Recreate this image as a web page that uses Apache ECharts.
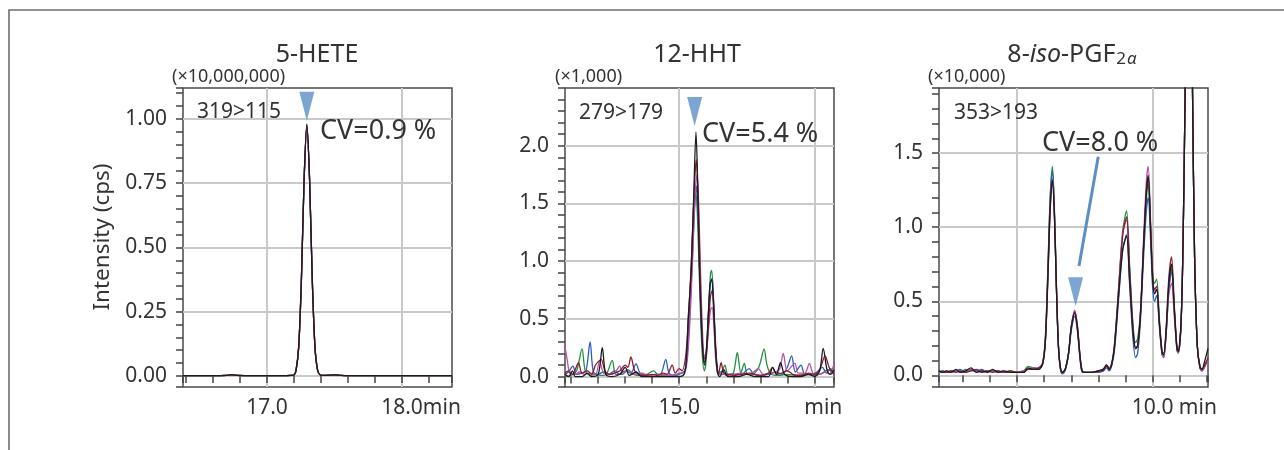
<!DOCTYPE html>
<html><head><meta charset="utf-8">
<script src="https://cdn.jsdelivr.net/npm/echarts@6/dist/echarts.min.js"></script>
<style>html,body{margin:0;padding:0;background:#fff}#c{width:1284px;height:450px}</style>
</head><body><div id="c"></div>
<script>
// ---------- Panel 1: 5-HETE (x10,000,000) ----------
const heteX = [16.378,16.5,16.6,16.7,16.74,16.78,16.9,17.0,17.1,17.18,17.2,17.215,17.235,17.255,17.275,17.295,17.315,17.335,17.355,17.375,17.395,17.42,17.5,17.55,17.6,17.8,18.0,18.2,18.37];
const heteGreen   = [0.001,0.001,0.001,0.002,0.004,0.002,0.001,0.001,0.001,0.002,0.004,0.021,0.112,0.375,0.765,0.978,0.772,0.382,0.116,0.022,0.004,0.002,0.003,0.002,0.001,0.001,0.001,0.001,0.001];
const heteBlue    = [0.001,0.001,0.001,0.002,0.005,0.002,0.001,0.001,0.001,0.002,0.004,0.020,0.110,0.370,0.760,0.970,0.768,0.380,0.114,0.021,0.004,0.002,0.004,0.002,0.001,0.001,0.001,0.001,0.001];
const heteMagenta = [0.001,0.001,0.001,0.002,0.005,0.002,0.001,0.001,0.001,0.002,0.005,0.024,0.120,0.385,0.768,0.975,0.765,0.375,0.112,0.021,0.004,0.002,0.004,0.002,0.001,0.001,0.001,0.001,0.001];
const heteRed     = [0.001,0.001,0.001,0.002,0.004,0.002,0.001,0.001,0.001,0.002,0.004,0.021,0.113,0.377,0.764,0.972,0.770,0.379,0.115,0.022,0.004,0.002,0.003,0.002,0.001,0.001,0.001,0.001,0.001];
const heteBlack   = [0.001,0.001,0.001,0.002,0.005,0.002,0.001,0.001,0.001,0.002,0.004,0.022,0.115,0.380,0.770,0.980,0.770,0.380,0.115,0.022,0.004,0.002,0.004,0.002,0.001,0.001,0.001,0.001,0.001];
const hetePeak = [17.295, 0.993];

// ---------- Panel 2: 12-HHT (x1,000) ----------
const hhtGreen = [[14.577,0.0],[14.6,0.01],[14.62,0.05],[14.64,0.24],[14.652,0.05],[14.67,0.01],[14.69,0.02],[14.71,0.01],[14.73,0.02],[14.752,0.14],[14.765,0.02],[14.79,0.02],[14.81,0.06],[14.83,0.02],[14.86,0.01],[14.88,0.02],[14.905,0.05],[14.92,0.02],[14.95,0.01],[14.98,0.01],[15.0,0.0],[15.02,0.03],[15.03,0.25],[15.04,0.7],[15.05,1.3],[15.058,1.6],[15.064,1.55],[15.07,1.2],[15.078,0.6],[15.085,0.2],[15.093,0.05],[15.1,0.15],[15.108,0.55],[15.116,0.9],[15.12,0.92],[15.126,0.7],[15.134,0.25],[15.142,0.03],[15.152,0.02],[15.169,0.1],[15.18,0.02],[15.2,0.03],[15.215,0.21],[15.228,0.03],[15.241,0.115],[15.252,0.02],[15.27,0.02],[15.29,0.06],[15.3,0.12],[15.314,0.24],[15.325,0.1],[15.34,0.02],[15.37,0.01],[15.4,0.02],[15.43,0.01],[15.47,0.02],[15.5,0.01],[15.53,0.03],[15.55,0.06],[15.573,0.02]];
const hhtBlue = [[14.577,0.02],[14.59,0.04],[14.606,0.09],[14.62,0.02],[14.64,0.03],[14.655,0.05],[14.67,0.30],[14.682,0.04],[14.70,0.02],[14.72,0.04],[14.74,0.02],[14.76,0.05],[14.78,0.02],[14.8,0.05],[14.82,0.03],[14.84,0.11],[14.855,0.03],[14.88,0.01],[14.91,0.02],[14.93,0.02],[14.95,0.15],[14.962,0.03],[14.98,0.01],[15.0,0.02],[15.02,0.05],[15.03,0.2],[15.04,0.6],[15.05,1.1],[15.058,1.5],[15.064,1.65],[15.07,1.4],[15.077,0.8],[15.084,0.35],[15.092,0.15],[15.1,0.22],[15.108,0.55],[15.116,0.82],[15.122,0.85],[15.128,0.6],[15.136,0.2],[15.145,0.03],[15.16,0.05],[15.175,0.01],[15.2,0.02],[15.23,0.02],[15.259,0.07],[15.275,0.02],[15.3,0.01],[15.33,0.02],[15.36,0.04],[15.38,0.02],[15.4,0.08],[15.416,0.18],[15.43,0.04],[15.451,0.1],[15.465,0.02],[15.49,0.02],[15.51,0.04],[15.53,0.08],[15.545,0.03],[15.56,0.07],[15.573,0.03]];
const hhtMagenta = [[14.577,0.26],[14.585,0.15],[14.595,0.03],[14.615,0.02],[14.63,0.04],[14.65,0.02],[14.67,0.03],[14.69,0.02],[14.705,0.13],[14.72,0.03],[14.74,0.02],[14.76,0.03],[14.78,0.09],[14.79,0.03],[14.81,0.05],[14.83,0.02],[14.86,0.03],[14.89,0.01],[14.93,0.02],[14.96,0.01],[14.99,0.02],[15.0,0.03],[15.02,0.04],[15.03,0.15],[15.04,0.5],[15.05,1.05],[15.058,1.55],[15.066,1.75],[15.072,1.5],[15.079,0.9],[15.086,0.4],[15.093,0.18],[15.1,0.2],[15.108,0.4],[15.116,0.58],[15.122,0.6],[15.128,0.45],[15.136,0.12],[15.145,0.03],[15.16,0.02],[15.2,0.02],[15.23,0.03],[15.26,0.02],[15.293,0.07],[15.31,0.02],[15.34,0.03],[15.37,0.06],[15.385,0.2],[15.4,0.05],[15.428,0.115],[15.44,0.03],[15.465,0.03],[15.482,0.115],[15.495,0.03],[15.52,0.02],[15.54,0.04],[15.555,0.02],[15.573,0.11]];
const hhtRed = [[14.577,0.03],[14.59,0.05],[14.605,0.02],[14.627,0.12],[14.64,0.03],[14.66,0.05],[14.675,0.02],[14.69,0.1],[14.70,0.13],[14.711,0.15],[14.725,0.05],[14.74,0.02],[14.76,0.03],[14.78,0.05],[14.8,0.1],[14.81,0.08],[14.821,0.17],[14.835,0.05],[14.85,0.02],[14.87,0.01],[14.90,0.02],[14.92,0.01],[14.94,0.03],[14.955,0.02],[14.974,0.10],[14.985,0.03],[15.0,0.07],[15.01,0.05],[15.025,0.2],[15.035,0.55],[15.045,1.0],[15.055,1.6],[15.063,1.88],[15.07,1.55],[15.077,0.9],[15.084,0.4],[15.092,0.12],[15.1,0.18],[15.108,0.45],[15.116,0.7],[15.123,0.75],[15.13,0.5],[15.138,0.15],[15.146,0.03],[15.155,0.12],[15.165,0.03],[15.18,0.02],[15.2,0.01],[15.23,0.02],[15.26,0.03],[15.3,0.01],[15.33,0.03],[15.345,0.08],[15.36,0.02],[15.38,0.03],[15.4,0.05],[15.42,0.02],[15.45,0.01],[15.48,0.03],[15.5,0.02],[15.52,0.06],[15.54,0.18],[15.555,0.08],[15.573,0.02]];
const hhtBlack = [[14.577,0.02],[14.59,0.0],[14.605,0.05],[14.615,0.0],[14.64,0.0],[14.66,0.03],[14.675,0.0],[14.70,0.02],[14.715,0.25],[14.728,0.02],[14.75,0.0],[14.78,0.02],[14.80,0.08],[14.815,0.01],[14.84,0.04],[14.86,0.0],[14.90,0.0],[14.95,0.0],[14.98,0.0],[15.0,0.0],[15.015,0.01],[15.025,0.1],[15.033,0.5],[15.04,0.75],[15.046,1.0],[15.054,1.6],[15.062,2.12],[15.068,1.7],[15.074,1.0],[15.081,0.5],[15.088,0.2],[15.094,0.1],[15.101,0.25],[15.108,0.55],[15.114,0.8],[15.12,0.84],[15.127,0.6],[15.134,0.25],[15.142,0.03],[15.15,0.0],[15.165,0.06],[15.18,0.0],[15.22,0.0],[15.25,0.02],[15.28,0.0],[15.33,0.0],[15.346,0.08],[15.36,0.02],[15.375,0.12],[15.39,0.02],[15.42,0.0],[15.45,0.0],[15.48,0.02],[15.5,0.0],[15.52,0.05],[15.533,0.245],[15.548,0.05],[15.56,0.02],[15.573,0.06]];
const hhtPeak = [15.057, 2.17];

// ---------- Panel 3: 8-iso-PGF2a (x10,000) ----------
const isoX = [8.424,8.45,8.48,8.51,8.55,8.58,8.62,8.66,8.70,8.74,8.78,8.82,8.86,8.90,8.95,9.0,9.05,9.08,9.12,9.16,9.19,9.21,9.23,9.245,9.261,9.275,9.29,9.305,9.32,9.335,9.355,9.38,9.40,9.426,9.445,9.465,9.48,9.5,9.55,9.6,9.635,9.66,9.68,9.70,9.72,9.75,9.78,9.808,9.83,9.855,9.875,9.89,9.91,9.935,9.955,9.968,9.985,10.0,10.015,10.03,10.05,10.07,10.082,10.1,10.12,10.14,10.16,10.18,10.19,10.21,10.225,10.24,10.255,10.267,10.28,10.295,10.31,10.33,10.35,10.365,10.38,10.4,10.409];
const isoGreen = [0.02,0.03,0.02,0.03,0.03,0.02,0.04,0.03,0.03,0.02, 0.03,0.03,0.02,0.02,0.03,0.02,0.03,0.06,0.05,0.04, 0.09,0.28,0.80,1.22,1.41,1.15,0.62,0.20,0.05,0.02, 0.04,0.15,0.32,0.43,0.33,0.12,0.03,0.02,0.02,0.03, 0.04,0.06,0.05,0.09,0.22,0.60,0.98,1.11,0.75,0.35, 0.22,0.25,0.42,0.88,1.20,1.30,0.98,0.70,0.62,0.65, 0.38,0.16,0.13,0.28,0.58,0.72,0.45,0.18,0.16,0.35, 0.90,1.90,3.00,3.40,3.00,1.90,0.80,0.20,0.05,0.03, 0.05,0.09,0.11];
const isoBlue = [0.02,0.03,0.02,0.02,0.03,0.04,0.02,0.04,0.03,0.04, 0.02,0.03,0.03,0.02,0.02,0.02,0.03,0.04,0.05,0.04, 0.08,0.26,0.78,1.20,1.38,1.12,0.60,0.20,0.04,0.01, 0.03,0.14,0.30,0.40,0.30,0.11,0.02,0.02,0.02,0.02, 0.03,0.05,0.03,0.07,0.18,0.52,0.85,0.95,0.62,0.25, 0.12,0.15,0.36,0.82,1.12,1.20,0.92,0.60,0.50,0.54, 0.33,0.14,0.12,0.28,0.58,0.70,0.44,0.17,0.15,0.34, 0.90,1.90,3.00,3.40,3.00,1.90,0.80,0.20,0.05,0.03, 0.05,0.09,0.10];
const isoMagenta = [0.02,0.02,0.03,0.02,0.03,0.03,0.02,0.04,0.02,0.03, 0.03,0.03,0.02,0.03,0.02,0.02,0.03,0.04,0.05,0.05, 0.09,0.25,0.74,1.15,1.33,1.12,0.62,0.21,0.05,0.02, 0.04,0.15,0.33,0.44,0.34,0.13,0.03,0.02,0.02,0.03, 0.04,0.07,0.05,0.08,0.22,0.58,0.96,1.05,0.72,0.33, 0.19,0.20,0.42,0.95,1.32,1.41,1.05,0.68,0.57,0.58, 0.35,0.14,0.12,0.28,0.55,0.62,0.40,0.17,0.15,0.34, 0.90,1.90,3.00,3.40,3.00,1.90,0.80,0.20,0.05,0.03, 0.05,0.09,0.10];
const isoRed = [0.03,0.02,0.02,0.03,0.02,0.03,0.02,0.03,0.04,0.02, 0.03,0.02,0.03,0.02,0.03,0.02,0.02,0.04,0.04,0.05, 0.08,0.24,0.72,1.12,1.30,1.10,0.62,0.21,0.05,0.02, 0.04,0.15,0.33,0.43,0.33,0.13,0.03,0.02,0.02,0.03, 0.03,0.06,0.04,0.08,0.21,0.58,0.95,1.07,0.72,0.32, 0.18,0.20,0.40,0.90,1.25,1.33,1.02,0.68,0.58,0.60, 0.37,0.16,0.15,0.32,0.66,0.80,0.48,0.19,0.17,0.36, 0.90,1.90,3.00,3.40,3.00,1.90,0.80,0.20,0.05,0.04, 0.06,0.10,0.12];
const isoBlack = [0.03,0.02,0.03,0.02,0.04,0.02,0.03,0.05,0.02,0.03, 0.02,0.04,0.02,0.03,0.02,0.02,0.02,0.05,0.04,0.04, 0.08,0.25,0.75,1.15,1.32,1.10,0.60,0.20,0.05,0.02, 0.04,0.15,0.32,0.42,0.32,0.12,0.03,0.02,0.02,0.03, 0.04,0.07,0.04,0.08,0.20,0.55,0.85,0.94,0.65,0.30, 0.18,0.20,0.40,0.90,1.25,1.35,1.00,0.65,0.55,0.58, 0.35,0.15,0.14,0.30,0.62,0.75,0.45,0.18,0.16,0.35, 0.90,1.90,3.00,3.40,3.00,1.90,0.80,0.20,0.06,0.04, 0.08,0.15,0.18];
const isoPeak = [9.432, 0.467];
const isoArrow = [[9.599, 1.476], [9.457, 0.738]];

// ---------- Text ----------
const titles = ['5-HETE', '12-HHT', '8-{i|iso}-PGF{s|2}{a|α}'];
const units = ['(×10,000,000)', '(×1,000)', '(×10,000)'];
const transitions = ['319>115', '279>179', '353>193'];
const cvTexts = ['CV=0.9 %', 'CV=5.4 %', 'CV=8.0 %'];
const yName = 'Intensity (cps)';

// ---------- Layout / style ----------
const FONT = '"Noto Sans", "DejaVu Sans", sans-serif';
const TXT = '#333333';
const MARK = '#5b8fc7';
const COL = {green:'#23903f', blue:'#2b5fbf', magenta:'#b552b0', red:'#8e1b2e', black:'#1c1c1c'};
const LBL = 21;
const GRIDS = [
  {left:183, top:88, width:269, height:299},
  {left:565, top:88, width:269, height:299},
  {left:939, top:88, width:269, height:299}
];
const XR = [[16.378, 18.37, 0.2, 1.0], [14.577, 15.573, 0.1, 0.5], [8.424, 10.409, 0.2, 1.0]];
const YR = [[-0.043, 1.12, 0.05, 0.25, 2], [-0.09, 2.5, 0.1, 0.5, 1], [-0.079, 1.94, 0.1, 0.5, 1]];
const X_LABELS = [
  {17: '17.0', 18: '{h|min}18.0min'},
  {15: '15.0', 15.5: '{p| }min'},
  {9: '9.0', 10: '{h| min}10.0 min'}
];

function isMult(v, s) { const r = v / s; return Math.abs(r - Math.round(r)) < 1e-6; }

const xAxes = [], yAxes = [], series = [];
GRIDS.forEach((g, i) => {
  const [xmin, xmax, xs, xl] = XR[i];
  const [ymin, ymax, ys, yl, yd] = YR[i];
  const labelRich = {
    h: {color:'rgba(0,0,0,0)', fontSize:LBL, fontFamily:FONT},
    p: {width:18, fontSize:LBL, fontFamily:FONT}
  };
  xAxes.push({type:'value', gridIndex:i, min:xmin, max:xmax, position:'bottom',
    splitNumber: Math.round((xmax - xmin) / xs), minInterval: xs, maxInterval: xs,
    axisLine:{show:false}, axisLabel:{show:false}, splitLine:{show:false},
    axisTick:{show:true, length:7, lineStyle:{color:'#444', width:1.5}}});
  xAxes.push({type:'value', gridIndex:i, min:xmin, max:xmax, position:'bottom',
    splitNumber: Math.round((xmax - xmin) / xl), minInterval: xl, maxInterval: xl,
    axisLine:{show:false}, axisTick:{show:false},
    axisLabel:{show:true, margin:11, fontSize:LBL, fontFamily:FONT, color:TXT, rich: labelRich,
      formatter: v => { for (const k in X_LABELS[i]) { if (Math.abs(v - parseFloat(k)) < 1e-6) return X_LABELS[i][k]; } return ''; }},
    splitLine:{show:true, showMinLine:false, showMaxLine:false, lineStyle:{color:'#c9c9c9', width:2}}});
  yAxes.push({type:'value', gridIndex:i, min:ymin, max:ymax, position:'left',
    splitNumber: Math.round((ymax - ymin) / ys), minInterval: ys, maxInterval: ys,
    axisLine:{show:false}, axisLabel:{show:false}, splitLine:{show:false},
    axisTick:{show:true, length:7, lineStyle:{color:'#444', width:1.5}}});
  yAxes.push({type:'value', gridIndex:i, min:ymin, max:ymax, position:'left',
    splitNumber: Math.round((ymax - ymin) / yl), minInterval: yl, maxInterval: yl,
    axisLine:{show:false}, axisTick:{show:false},
    axisLabel:{show:true, margin:16, fontSize:LBL, fontFamily:FONT, color:TXT,
      formatter: v => (isMult(v, yl) && Math.abs(v - ymax) > 1e-6 && Math.abs(v - ymin) > 1e-6) ? v.toFixed(yd) : ''},
    splitLine:{show:true, showMinLine:false, showMaxLine:false, lineStyle:{color:'#c9c9c9', width:2}}});
});

function addLine(gi, data, color, extra) {
  series.push(Object.assign({type:'line', xAxisIndex: gi*2, yAxisIndex: gi*2, data, symbol:'none',
    smooth:0.3, clip:true, silent:true, lineStyle:{color, width:1.3}, z:3}, extra || {}));
}
const zip = (xs, ys) => xs.map((x, k) => [x, ys[k]]);
addLine(0, zip(heteX, heteGreen), COL.green);
addLine(0, zip(heteX, heteBlue), COL.blue);
addLine(0, zip(heteX, heteMagenta), COL.magenta);
addLine(0, zip(heteX, heteRed), COL.red);
addLine(0, zip(heteX, heteBlack), COL.black);
addLine(1, hhtGreen, COL.green);
addLine(1, hhtBlue, COL.blue);
addLine(1, hhtMagenta, COL.magenta);
addLine(1, hhtRed, COL.red);
addLine(1, hhtBlack, COL.black);
addLine(2, zip(isoX, isoGreen), COL.green);
addLine(2, zip(isoX, isoBlue), COL.blue);
addLine(2, zip(isoX, isoMagenta), COL.magenta);
addLine(2, zip(isoX, isoRed), COL.red);
addLine(2, zip(isoX, isoBlack), COL.black);
// arrow shaft (panel 3)
addLine(2, isoArrow, MARK, {smooth:false, lineStyle:{color:MARK, width:3}, z:5});
// peak markers
[hetePeak, hhtPeak, isoPeak].forEach((p, gi) => {
  series.push({type:'scatter', xAxisIndex: gi*2, yAxisIndex: gi*2, data:[p], silent:true,
    symbol:'path://M0,0L10,0L5,20Z', symbolSize:[15, 29], symbolOffset:[0, -14.5],
    itemStyle:{color:MARK}, z:6});
});

// ---------- text graphics ----------
const gtext = (x, y, text, size) => ({type:'text', x, y, silent:true, z:10,
  style:{text, fill:TXT, font: size + 'px ' + FONT, align:'left', verticalAlign:'middle'}});
const graphics = [
  {type:'rect', shape:{x:9, y:10, width:1300, height:500}, style:{fill:'none', stroke:'#6e6e6e', lineWidth:1.6}, silent:true, z:0}
];
const TITLE_X = [317, 697, 1072];
const UNIT_X = [172, 555, 928];
const TR_POS = [[197, 112], [579, 113], [954, 113]];
const CV_POS = [[320, 131], [702, 134], [1042, 143]];
GRIDS.forEach((g, i) => {
  graphics.push({type:'text', x:TITLE_X[i], y:55, silent:true, z:10,
    style:{text:titles[i], fill:TXT, font:'25px ' + FONT, align:'center', verticalAlign:'middle',
      rich:{i:{fontStyle:'italic', fontSize:25, fontFamily:FONT, fill:TXT},
            s:{fontSize:17, fontFamily:FONT, fill:TXT, verticalAlign:'bottom', padding:[7,0,0,1]},
            a:{fontSize:17, fontStyle:'italic', fontFamily:FONT, fill:TXT, verticalAlign:'bottom', padding:[7,0,0,1]}}}});
  graphics.push(gtext(UNIT_X[i], 77, units[i], 18));
  graphics.push(gtext(TR_POS[i][0], TR_POS[i][1], transitions[i], 21));
  graphics.push(gtext(CV_POS[i][0], CV_POS[i][1], cvTexts[i], 27));
});
graphics.push({type:'text', x:103, y:237, rotation:Math.PI/2, silent:true, z:10,
  style:{text:yName, fill:TXT, font:'22.5px ' + FONT, align:'center', verticalAlign:'middle'}});

const chart = echarts.init(document.getElementById('c'), null, {renderer:'canvas'});
chart.setOption({
  animation:false,
  backgroundColor:'#ffffff',
  grid: GRIDS.map(g => Object.assign({show:true, borderColor:'#4a4a4a', borderWidth:1.5, backgroundColor:'transparent', containLabel:false, outerBoundsMode:'none'}, g)),
  xAxis: xAxes,
  yAxis: yAxes,
  series,
  graphic: graphics
});
</script></body></html>
